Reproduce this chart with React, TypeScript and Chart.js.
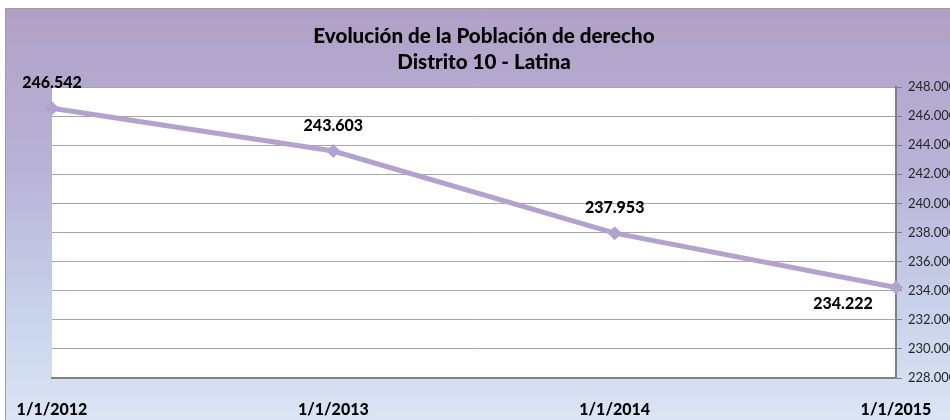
import React, { useEffect, useRef } from "react";
import { Chart, registerables } from "chart.js";

Chart.register(...registerables);

const categories = ["1/1/2012", "1/1/2013", "1/1/2014", "1/1/2015"];
const poblacion = [246542, 243603, 237953, 234222];
const titleLines = ["Evolución de la Población de derecho", "Distrito 10 - Latina"];
const yMin = 228000;
const yMax = 248000;
const yStep = 2000;

const FONT = "Lato, 'Open Sans', sans-serif";
const LINE_COLOR = "#B3A2CD";

function fmt(v: number): string {
  const s = Math.round(v).toString();
  return s.replace(/\B(?=(\d{3})+(?!\d))/g, ".");
}

const backgroundPlugin = {
  id: "bgFrame",
  beforeDraw(chart: any) {
    const { ctx, width, height } = chart;
    ctx.save();
    ctx.fillStyle = "#ffffff";
    ctx.fillRect(0, 0, width, height);
    const g = ctx.createLinearGradient(0, 8, 0, height);
    g.addColorStop(0, "#B1A0C6");
    g.addColorStop(0.4, "#B9B3D8");
    g.addColorStop(0.75, "#C9D4EC");
    g.addColorStop(1, "#DCE5F5");
    ctx.fillStyle = g;
    ctx.fillRect(5, 8, width - 5, height - 8);
    ctx.strokeStyle = "#9E9E9E";
    ctx.lineWidth = 1;
    ctx.beginPath();
    ctx.moveTo(5.5, height);
    ctx.lineTo(5.5, 8.5);
    ctx.lineTo(width, 8.5);
    ctx.stroke();
    const a = chart.chartArea;
    ctx.fillStyle = "#ffffff";
    ctx.fillRect(a.left, a.top, a.right - a.left, a.bottom - a.top);
    ctx.restore();
  },
  afterDraw(chart: any) {
    const { ctx, width } = chart;
    ctx.save();
    ctx.fillStyle = "#000000";
    ctx.font = `900 20.6px ${FONT}`;
    ctx.textAlign = "center";
    ctx.textBaseline = "middle";
    ctx.fillText(titleLines[0], width / 2, 36);
    ctx.fillText(titleLines[1], width / 2, 62);
    ctx.restore();
  },
};

const dataLabelPlugin = {
  id: "dataLabels",
  afterDatasetsDraw(chart: any) {
    const { ctx } = chart;
    const meta = chart.getDatasetMeta(0);
    const vals = chart.data.datasets[0].data as number[];
    ctx.save();
    ctx.fillStyle = "#000000";
    ctx.font = `900 16px ${FONT}`;
    ctx.textBaseline = "middle";
    ctx.textAlign = "center";
    meta.data.forEach((pt: any, i: number) => {
      const txt = fmt(vals[i]);
      const w = ctx.measureText(txt).width;
      let x = pt.x;
      let y = pt.y - 25;
      if (pt.x + w / 2 > chart.chartArea.right + 1) {
        x = pt.x - 53;
        y = pt.y + 16.5;
      }
      ctx.fillText(txt, x, y);
    });
    ctx.restore();
  },
};

export default function App() {
  const ref = useRef<HTMLCanvasElement | null>(null);
  useEffect(() => {
    if (!ref.current) return;
    const chart = new Chart(ref.current, {
      type: "line",
      data: {
        labels: categories,
        datasets: [
          {
            data: poblacion,
            borderColor: LINE_COLOR,
            backgroundColor: LINE_COLOR,
            borderWidth: 5,
            pointStyle: "rectRot",
            pointRadius: 7,
            pointBorderWidth: 0,
            pointBackgroundColor: LINE_COLOR,
            tension: 0,
            clip: false as any,
          },
        ],
      },
      options: {
        animation: false,
        responsive: false,
        maintainAspectRatio: false,
        layout: { padding: { left: 52, top: 87, right: 0, bottom: 0 } },
        plugins: {
          legend: { display: false },
          title: { display: false },
          tooltip: { enabled: false },
        },
        scales: {
          x: {
            type: "category",
            offset: false,
            grid: { display: false, drawTicks: false },
            border: { display: true, color: "#808080", width: 2 },
            ticks: {
              autoSkip: false,
              maxRotation: 0,
              padding: 22,
              color: "#000000",
              font: { family: FONT, size: 16, weight: "900" as any },
            },
            afterFit: (s: any) => {
              s.height = 42;
              s.paddingLeft = 0;
              s.paddingRight = 0;
            },
          },
          y: {
            position: "right",
            min: yMin,
            max: yMax,
            grid: {
              color: "#A6A6A6",
              lineWidth: 1,
              drawTicks: true,
              tickLength: 6,
              tickColor: "#808080",
            },
            border: { display: true, color: "#808080", width: 2 },
            ticks: {
              stepSize: yStep,
              padding: 6,
              color: "#262626",
              font: { family: FONT, size: 13 },
              callback: (v: any) => fmt(Number(v)),
            },
            afterFit: (s: any) => {
              s.width = 72;
              s.paddingTop = 0;
              s.paddingBottom = 0;
            },
          },
        },
      },
      plugins: [backgroundPlugin, dataLabelPlugin],
    });
    return () => chart.destroy();
  }, []);
  return (
    <div
      style={{
        position: "fixed",
        left: 0,
        top: 0,
        width: 950,
        height: 420,
        overflow: "hidden",
        background: "#fff",
      }}
    >
      <canvas ref={ref} width={968} height={420} style={{ display: "block", width: 968, height: 420 }} />
    </div>
  );
}
